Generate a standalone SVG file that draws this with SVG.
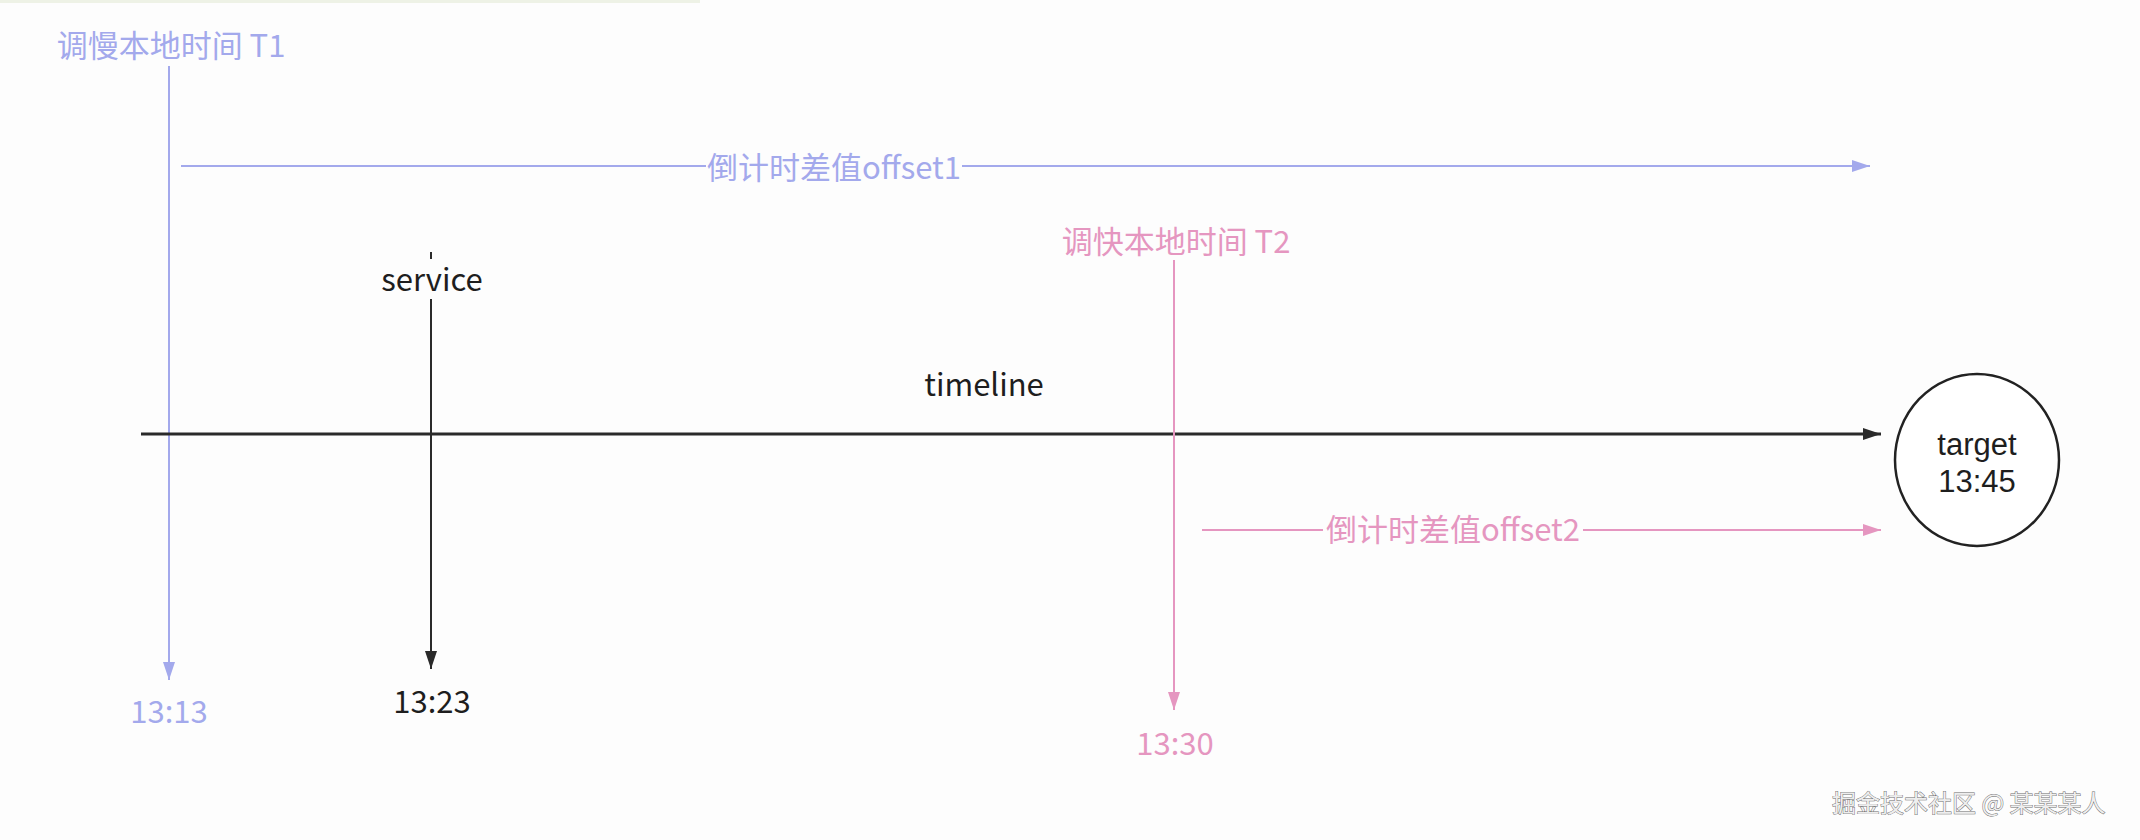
<svg xmlns="http://www.w3.org/2000/svg" width="2140" height="840" viewBox="0 0 2140 840">
  <defs>
    <marker id="arrBlue" viewBox="0 0 18 12" refX="18" refY="6" markerWidth="18" markerHeight="12" markerUnits="userSpaceOnUse" orient="auto">
      <path d="M0,0 L18,6 L0,12 Z" fill="#a3a9ec"/>
    </marker>
    <marker id="arrPink" viewBox="0 0 18 12" refX="18" refY="6" markerWidth="18" markerHeight="12" markerUnits="userSpaceOnUse" orient="auto">
      <path d="M0,0 L18,6 L0,12 Z" fill="#e596c0"/>
    </marker>
    <marker id="arrBlack" viewBox="0 0 18 12" refX="18" refY="6" markerWidth="18" markerHeight="12" markerUnits="userSpaceOnUse" orient="auto">
      <path d="M0,0 L18,6 L0,12 Z" fill="#2a2a2a"/>
    </marker>
  </defs>
  <style>
    text { font-family: "Noto Sans CJK SC", "Noto Sans", "Liberation Sans", sans-serif; font-size: 31px; text-anchor: middle; }
    .latin { font-family: "Liberation Sans", "Noto Sans", sans-serif; font-size: 31px; }
    .blue { fill: #a3a9ec; }
    .pink { fill: #e596c0; }
    .dark { fill: #1e1e1e; }
    .lblue { stroke: #a3a9ec; stroke-width: 2; fill: none; }
    .lpink { stroke: #e596c0; stroke-width: 2; fill: none; }
    .ldark { stroke: #2a2a2a; stroke-width: 2; fill: none; }
    .bg { fill: #fdfdfd; }
    .wm { font-size: 24px; text-anchor: start; fill: #eeeeee; stroke: #6a6a6a; stroke-width: 0.9; paint-order: stroke; }
  </style>
  <rect x="0" y="0" width="2140" height="840" fill="#fdfdfd"/>
  <rect x="0" y="0" width="700" height="3" fill="#eef2e6"/>

  <g id="connectors">
    <line class="lblue" x1="169" y1="66" x2="169" y2="680" marker-end="url(#arrBlue)"/>
    <line class="lblue" x1="181" y1="166" x2="1870" y2="166" marker-end="url(#arrBlue)"/>
    <line class="ldark" x1="431" y1="252" x2="431" y2="669" marker-end="url(#arrBlack)"/>
    <line class="ldark" style="stroke-width:3" x1="141" y1="434" x2="1881" y2="434" marker-end="url(#arrBlack)"/>
    <line class="lpink" x1="1174" y1="260" x2="1174" y2="710" marker-end="url(#arrPink)"/>
    <line class="lpink" x1="1202" y1="530" x2="1881" y2="530" marker-end="url(#arrPink)"/>
  </g>

  <g id="label-t1">
    <text class="blue" x="171" y="57">调慢本地时间 T1</text>
  </g>
  <g id="label-offset1">
    <rect class="bg" x="706" y="150" width="256" height="36"/>
    <text class="blue" x="834" y="179">倒计时差值offset1</text>
  </g>
  <g id="label-service">
    <rect class="bg" x="380" y="259" width="104" height="40"/>
    <text class="dark" x="432" y="291">service</text>
  </g>
  <g id="label-timeline">
    <text class="dark" x="984" y="396">timeline</text>
  </g>
  <g id="label-t2">
    <text class="pink" x="1176" y="253">调快本地时间 T2</text>
  </g>
  <g id="label-1313">
    <text class="blue" x="169" y="723">13:13</text>
  </g>
  <g id="label-1323">
    <text class="dark" x="432" y="713">13:23</text>
  </g>
  <g id="label-1330">
    <text class="pink" x="1175" y="755">13:30</text>
  </g>
  <g id="label-offset2">
    <rect class="bg" x="1323" y="512" width="260" height="36"/>
    <text class="pink" x="1453" y="541">倒计时差值offset2</text>
  </g>
  <g id="node-target">
    <ellipse cx="1977" cy="460" rx="82" ry="86" fill="#ffffff" stroke="#222222" stroke-width="2.5"/>
    <text class="dark latin" x="1977" y="455">target</text>
    <text class="dark latin" x="1977" y="492">13:45</text>
  </g>
  <g id="watermark">
    <text class="wm" x="1832" y="812">掘金技术社区 @ 某某某人</text>
  </g>
</svg>
